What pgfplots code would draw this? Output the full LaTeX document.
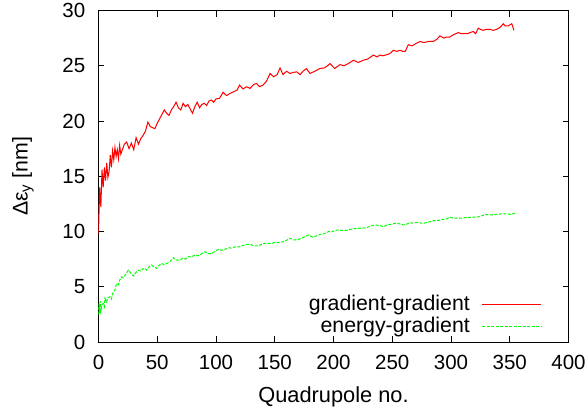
\documentclass[border=0pt]{standalone}
\usepackage{fontspec}
\setmainfont{Liberation Sans}
\usepackage{pgfplots}
\pgfplotsset{compat=1.18}
\definecolor{gpred}{RGB}{255,0,0}
\definecolor{gpgreen}{RGB}{0,255,0}
\begin{document}
\fontsize{20.5bp}{24bp}\selectfont
\begin{tikzpicture}
\path[use as bounding box] (-98.5bp,-70bp) rectangle (489.5bp,331.5bp+10.5bp);
\begin{axis}[
  at={(0,0)}, anchor=south west,
  scale only axis, width=470bp, height=331.5bp,
  xmin=0, xmax=400, ymin=0, ymax=30,
  xtick={0,50,...,400}, ytick={0,5,...,30},
  tick align=inside, major tick length=6bp,
  axis line style={line width=1bp},
  every tick/.style={black, line width=0.8bp},
  /pgf/number format/assume math mode=true,
  tick label style={font=\fontsize{20.5bp}{24bp}\selectfont},
  yticklabel style={inner sep=0pt, anchor=east, xshift=-13bp},
  xticklabel style={inner sep=0pt, anchor=north, yshift=-13bp},
  xlabel={Quadrupole no.},
  ylabel={Δε\textsubscript{y} [nm]},
  every axis x label/.style={at={(axis description cs:0.5,-0.184)}, anchor=base, font=\fontsize{21.8bp}{24bp}\selectfont},
  every axis y label/.style={at={(axis description cs:-0.1606,0.5)}, anchor=center, rotate=90, font=\fontsize{21.3bp}{24bp}\selectfont},
  legend plot pos=right,
  legend cell align=right,
  legend style={draw=none, fill=none, at={(rel axis cs:0.9436,0.0115)}, anchor=south east, inner sep=0pt, row sep=0pt, column sep=10bp, font=\fontsize{21.3bp}{22.5bp}\selectfont},
  legend image code/.code={\draw[#1] (0bp,0bp) -- (59bp,0bp);},
]
\addplot[color=gpred, line width=1bp, forget plot] coordinates {
(0,9.8) (1,14.0) (2,12.2) (3,15.6) (4,14.0) (5,15.8) (6,14.6) (7,16.2) (8,14.9) (9,15.4)
(10,16.9) (11,15.8) (12,17.3) (13,16.5) (14,17.6) (15,16.8) (16,17.4) (17,16.6) (18,17.8) (19,17.0)
(20,17.3) (22,17.9) (24,18.1) (26,17.5) (28,18.0) (30,17.4) (32,18.5) (34,17.9) (36,18.4) (38,18.7)
(40,19.1) (42,19.9) (44,19.5) (46,19.4) (48,19.3) (50,19.8) (52,20.2) (54,20.6) (56,21.0) (58,20.7)
(60,20.5) (62,21.0) (64,21.3) (66,21.7) (68,21.2) (70,21.0) (72,21.6) (74,21.3) (76,21.5) (78,21.1)
(80,20.7) (82,21.3) (84,21.7) (86,21.2) (88,21.5) (90,21.6) (92,21.4) (94,21.8) (96,21.9) (98,21.7)
(100,22.0) (103,22.05) (106,22.6) (109,22.3) (112,22.5) (115,22.65) (118,22.8) (120,23.25) (123,22.9) (126,23.1)
(129,22.95) (132,23.3) (134.5,23.4) (137,23.1) (140,23.25) (143,23.6) (146,24.3) (149,24.0) (152,24.2) (154.5,24.8)
(157,24.2) (160,24.5) (163,24.3) (166,24.4) (168.7,24.45) (171.5,24.2) (174,24.5) (177,24.75) (180,24.3) (184,24.5)
(188.5,24.75) (192,24.8) (195,25.0) (197,25.2) (201,24.75) (205.5,25.1) (209,25.0) (212.6,25.2) (217,25.5) (221,25.3)
(225.4,25.5) (229,25.6) (234,25.97) (237,25.8) (239.5,25.97) (242,25.9) (245.3,26.0) (248,26.1) (251,26.4) (254,26.3)
(256.6,26.4) (259,26.3) (261,26.3) (263.7,26.9) (267,26.8) (270,27.0) (273.6,27.2) (277,27.1) (281,27.2) (285,27.2)
(288,27.4) (290.6,27.7) (294,27.5) (296,27.6) (299,27.6) (302,27.8) (306.2,28.0) (309,27.9) (311.8,27.9) (314,27.9)
(316.2,28.0) (319,28.1) (321,27.9) (323.2,28.4) (325,28.3) (327.4,28.2) (330,28.3) (333.2,28.3) (336,28.2) (339,28.3)
(342,28.5) (344.5,28.8) (346,28.6) (348.6,28.6) (350,28.7) (351.7,28.8) (353.6,28.2)
};
\addplot[color=gpgreen, line width=1bp, dash pattern=on 3bp off 1.5bp, forget plot] coordinates {
(0,2.5) (0.5,3.5) (1,2.6) (1.5,3.7) (2,2.8) (3,3.4) (4,3.5) (5,3.2) (5.5,3.95) (7,3.6)
(8,4.0) (9.8,4.1) (11,3.9) (12.6,4.55) (14,4.7) (15.5,5.3) (17,5.2) (18,5.6) (19.7,5.9) (21,5.8)
(23,6.1) (25.4,6.5) (27,6.3) (29.6,5.97) (31,6.2) (33.9,6.5) (36,6.4) (37.5,6.6) (39.6,6.67) (41,6.5)
(43,6.8) (45.3,6.97) (47,6.8) (49.5,6.67) (51,6.9) (53.8,7.1) (56,7.0) (58,7.1) (60,7.2) (61,7.3)
(63.7,7.63) (65,7.5) (67,7.4) (69.3,7.4) (72,7.6) (74,7.5) (76.4,7.72) (79,7.7) (82.1,7.87) (85,7.8)
(88,8.0) (90.6,8.17) (93,8.0) (96.3,8.0) (99,8.2) (102,8.39) (105,8.3) (108,8.4) (110.5,8.54) (113,8.5)
(116,8.6) (119,8.6) (122,8.7) (125,8.8) (127.5,8.84) (130,8.8) (133,8.7) (136,8.7) (139,8.85) (141.7,8.93)
(144,8.9) (146,8.93) (148,8.95) (150.2,9.02) (153,9.0) (157.3,9.08) (160,9.2) (163,9.38) (166,9.25) (168.7,9.23)
(172,9.35) (175,9.5) (178.6,9.68) (182,9.5) (185.7,9.6) (189,9.75) (192,9.8) (195.6,9.98) (199,10.0) (202.7,10.13)
(206,10.1) (211.2,10.1) (215,10.2) (219.7,10.29) (224,10.3) (228.2,10.35) (232,10.5) (235.3,10.59) (239,10.55) (242.4,10.45)
(246,10.6) (249,10.65) (252.3,10.74) (256,10.7) (259.4,10.6) (263,10.7) (268,10.8) (272,10.8) (276.5,10.74) (281,10.85)
(285,10.98) (289,11.0) (293.4,11.1) (296,11.15) (299,11.28) (303,11.2) (307.6,11.2) (312,11.25) (316.2,11.28) (320,11.3)
(324.7,11.34) (329,11.55) (334,11.5) (339,11.55) (343,11.6) (347.4,11.6) (351,11.55) (354.5,11.65)
};
\addlegendimage{draw=gpred, color=gpred, line width=1bp}
\addlegendentry{gradient-gradient}
\addlegendimage{draw=gpgreen, color=gpgreen, line width=1bp, dash pattern=on 3bp off 1.5bp}
\addlegendentry{energy-gradient}
\end{axis}
\end{tikzpicture}
\end{document}
